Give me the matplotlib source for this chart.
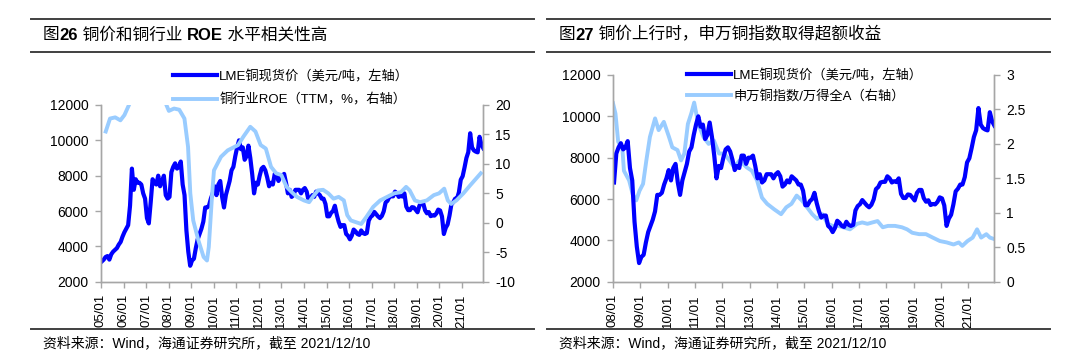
import numpy as np
import matplotlib
matplotlib.use('Agg')
import matplotlib.pyplot as plt
from matplotlib.lines import Line2D
from matplotlib.text import Annotation
from matplotlib.ticker import FormatStrFormatter

plt.rcParams['font.family'] = ['Liberation Sans', 'Noto Sans CJK SC']
plt.rcParams['axes.unicode_minus'] = False

W, H = 1080, 362
DARK = '#0000FF'
LIGHT = '#99CCFF'
SPINE = '#A6A6A6'

# LME copper spot, monthly 2005/01 - 2021/12 (USD/t)
copper_start = 2005
lme_copper = [
    3150, 3250, 3400, 3450, 3250, 3550, 3700, 3800, 3900, 4100, 4250, 4550,   # 2005
    4800, 5000, 5200, 6300, 8400, 7200, 7800, 7600, 7600, 7500, 7000, 6700,   # 2006
    5600, 5300, 6500, 7800, 7600, 7500, 8000, 7400, 7700, 8000, 6900, 6700,   # 2007
    6800, 8200, 8500, 8700, 8400, 8500, 8800, 7500, 6900, 4900, 3700, 2900,   # 2008
    3200, 3300, 3900, 4400, 4700, 5000, 5400, 6200, 6200, 6300, 6700, 7000,   # 2009
    7400, 6900, 7500, 7700, 6800, 6200, 6900, 7300, 7700, 8300, 8500, 9100,   # 2010
    9600, 10000, 9500, 9600, 8900, 9100, 9700, 9000, 8100, 7000, 7600, 7500,  # 2011
    8000, 8400, 8500, 8300, 7900, 7400, 7600, 7500, 8100, 8100, 7700, 8000,   # 2012
    8000, 8100, 7600, 7000, 7200, 6800, 6900, 7200, 7200, 7200, 7000, 7200,   # 2013
    7300, 7100, 6600, 6700, 6900, 6800, 7100, 7000, 6900, 6700, 6700, 6400,   # 2014
    5700, 5700, 5900, 6000, 6300, 5800, 5400, 5100, 5200, 5200, 4700, 4600,   # 2015
    4400, 4600, 4950, 4850, 4700, 4650, 4900, 4750, 4700, 4750, 5450, 5660,   # 2016
    5750, 5950, 5820, 5690, 5600, 5720, 5980, 6480, 6580, 6800, 6830, 6830,   # 2017
    7100, 7000, 6800, 6860, 6820, 7000, 6250, 6050, 6050, 6220, 6200, 6070,   # 2018
    5930, 6300, 6440, 6440, 6040, 5870, 5940, 5710, 5760, 5740, 5860, 6080,   # 2019
    6030, 5690, 4700, 5050, 5240, 5740, 6370, 6500, 6700, 6700, 7060, 7770,   # 2020
    7970, 8460, 9000, 9330, 10400, 9600, 9430, 9360, 9320, 10200, 9760, 9550, # 2021
]
copper_x = copper_start + (np.arange(len(lme_copper)) + 0.45) / 12
lme_copper = np.array(lme_copper)

# copper sector ROE (TTM, %)
roe_year = [2005.21, 2005.40, 2005.63, 2005.86, 2006.04, 2006.24, 2006.50, 2006.90,
            2007.30, 2007.60, 2007.90, 2008.01, 2008.24, 2008.47, 2008.70, 2008.86,
            2008.96, 2009.09, 2009.32, 2009.55, 2009.70, 2009.78, 2009.93, 2010.01,
            2010.32, 2010.62, 2011.08, 2011.31, 2011.62, 2011.85, 2012.08, 2012.31,
            2012.54, 2012.77, 2013.00, 2013.23, 2013.46, 2013.69, 2014.00, 2014.23,
            2014.39, 2014.62, 2014.85, 2015.08, 2015.31, 2015.54, 2015.77, 2015.92,
            2016.08, 2016.31, 2016.54, 2016.77, 2017.07, 2017.38, 2017.69, 2018.00,
            2018.30, 2018.53, 2018.69, 2018.92, 2019.15, 2019.45, 2019.76, 2019.99,
            2020.22, 2020.38, 2020.53, 2020.76, 2021.07, 2021.38, 2021.84]
roe_value = [15.5, 17.7, 17.9, 17.4, 18.3, 20.0, 23.0, 26.0,
             27.0, 24.0, 20.0, 19.0, 19.4, 19.2, 17.7, 12.9,
             5.0, 0.4, -3.0, -5.8, -6.4, -4.1, 5.0, 8.9,
             11.2, 12.3, 13.2, 14.6, 16.3, 15.5, 13.2, 12.6,
             9.5, 8.4, 8.1, 6.1, 5.2, 4.4, 3.8, 3.5,
             4.4, 5.5, 5.6, 5.0, 4.1, 4.4, 3.8, 1.3,
             0.4, 0.1, -0.2, 1.0, 2.7, 3.8, 4.4, 5.0,
             5.2, 6.1, 5.5, 3.8, 3.5, 3.8, 4.7, 5.0,
             5.8, 3.8, 3.2, 3.8, 5.0, 6.4, 8.4]

# SW copper index / Wind All A
idx_year = [2008.00, 2008.09, 2008.19, 2008.34, 2008.40, 2008.59, 2008.72, 2008.85,
            2008.97, 2009.10, 2009.22, 2009.35, 2009.54, 2009.67, 2009.86, 2010.05,
            2010.17, 2010.36, 2010.49, 2010.61, 2010.74, 2010.87, 2010.97, 2011.12,
            2011.31, 2011.50, 2011.69, 2011.88, 2012.07, 2012.26, 2012.44, 2012.63,
            2012.89, 2013.08, 2013.27, 2013.45, 2013.64, 2013.90, 2014.15, 2014.34,
            2014.53, 2014.72, 2014.91, 2015.10, 2015.29, 2015.47, 2015.66, 2015.85,
            2016.04, 2016.23, 2016.42, 2016.67, 2016.93, 2017.12, 2017.31, 2017.49,
            2017.68, 2017.87, 2018.06, 2018.32, 2018.57, 2018.76, 2018.95, 2019.20,
            2019.45, 2019.70, 2019.96, 2020.21, 2020.46, 2020.65, 2020.78, 2020.97,
            2021.16, 2021.32, 2021.47, 2021.66, 2021.79, 2021.94]
idx_value = [2.59, 2.44, 2.03, 1.95, 1.61, 1.47, 1.27, 1.18,
             1.32, 1.42, 1.76, 2.10, 2.37, 2.20, 2.32, 2.10,
             1.95, 1.91, 1.76, 1.86, 2.29, 2.45, 2.60, 2.29,
             2.10, 2.00, 2.05, 1.86, 1.86, 1.76, 1.66, 1.76,
             1.66, 1.61, 1.47, 1.22, 1.13, 1.05, 0.98, 1.08,
             1.13, 1.25, 1.18, 1.08, 0.98, 0.91, 0.98, 0.84,
             0.81, 0.81, 0.79, 0.76, 0.84, 0.86, 0.84, 0.86,
             0.88, 0.79, 0.81, 0.81, 0.79, 0.76, 0.71, 0.69,
             0.69, 0.64, 0.59, 0.57, 0.54, 0.57, 0.52, 0.59,
             0.64, 0.76, 0.64, 0.69, 0.64, 0.62]

end_x = 2021.94


def px(x, y):
    return x / W, 1 - y / H


def style(ax, ax2, x0):
    for a in (ax, ax2):
        a.spines['top'].set_visible(False)
        for s in ('left', 'right', 'bottom'):
            a.spines[s].set_color(SPINE)
            a.spines[s].set_linewidth(1)
        a.tick_params(direction='out', length=4, width=1, color=SPINE,
                      labelsize=10, labelcolor='black', pad=5)
    years = list(range(x0, 2022))
    ax.set_xticks(years)
    ax.set_xticklabels([f'{y % 100:02d}/01' for y in years], rotation=90, fontsize=9.5)
    ax.set_xlim(x0, end_x)
    ax.set_ylim(2000, 12000)
    ax.set_yticks(range(2000, 12001, 2000))


def rich_title(x, y, parts, size=12):
    t = fig.text(*px(x, y), parts[0][0], fontsize=size, fontweight=parts[0][1],
                 va='center', ha='left')
    for s, w in parts[1:]:
        t = fig.add_artist(Annotation(s, xy=(1, 0), xycoords=t, va='bottom', ha='left',
                                      fontsize=size, fontweight=w))


def rules(x0, x1):
    for y in (19, 51.5, 329):
        fig.add_artist(Line2D([x0 / W, x1 / W], [1 - y / H, 1 - y / H],
                              color='#404040', lw=1.4))


fig = plt.figure(figsize=(W / 100, H / 100), dpi=100)

# ---- left panel
ax1 = fig.add_axes([101 / W, 1 - 281.7 / H, 382 / W, 176.7 / H])
ax1r = ax1.twinx()
l1, = ax1.plot(copper_x, lme_copper, color=DARK, lw=3.0)
l2, = ax1r.plot(roe_year, roe_value, color=LIGHT, lw=2.8)
style(ax1, ax1r, 2005)
ax1r.set_ylim(-10, 20)
ax1r.set_yticks(range(-10, 21, 5))
fig.legend([l1, l2], ['LME铜现货价（美元/吨，左轴）', '铜行业ROE（TTM，%，右轴）'],
           loc='upper left', bbox_to_anchor=px(173, 70), frameon=False, fontsize=9.5,
           handlelength=3.3, handletextpad=0.2, labelspacing=0.8,
           borderpad=0, borderaxespad=0)

rules(31, 534)
rich_title(43, 35, [('图', 'normal'), ('26', 'bold'), (' 铜价和铜行业 ', 'normal'),
                    ('ROE', 'bold'), (' 水平相关性高', 'normal')])
fig.text(*px(43, 343), '资料来源：Wind，海通证券研究所，截至 2021/12/10',
         fontsize=10, va='center', ha='left')

# ---- right panel
ax2 = fig.add_axes([613 / W, 1 - 281.7 / H, 381 / W, 206.7 / H])
ax2r = ax2.twinx()
ax2.set_zorder(ax2r.get_zorder() + 1)
ax2.patch.set_visible(False)
m = copper_x >= 2008
r1, = ax2.plot(copper_x[m], lme_copper[m], color=DARK, lw=3.0)
r2, = ax2r.plot(idx_year, idx_value, color=LIGHT, lw=2.8)
style(ax2, ax2r, 2008)
ax2r.set_ylim(0, 3)
ax2r.set_yticks(np.arange(0, 3.01, 0.5))
ax2r.yaxis.set_major_formatter(FormatStrFormatter('%g'))
fig.legend([r1, r2], ['LME铜现货价（美元/吨，左轴）', '申万铜指数/万得全A（右轴）'],
           loc='upper left', bbox_to_anchor=px(687, 69), frameon=False, fontsize=9.5,
           handlelength=3.3, handletextpad=0.2, labelspacing=0.55,
           borderpad=0, borderaxespad=0)

rules(547, 1050)
rich_title(559, 35, [('图', 'normal'), ('27', 'bold'),
                     (' 铜价上行时，申万铜指数取得超额收益', 'normal')])
fig.text(*px(559, 343), '资料来源：Wind，海通证券研究所，截至 2021/12/10',
         fontsize=10, va='center', ha='left')

fig.savefig('out.png', dpi=100)
